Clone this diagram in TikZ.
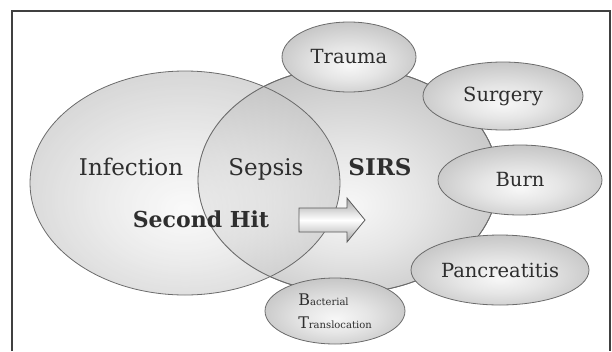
\documentclass[tikz,border=0pt]{standalone}
\usepackage{fontspec}
\setmainfont{DejaVu Serif}
\usetikzlibrary{shapes.geometric}
\newcommand{\vennfont}{\fontsize{23}{27}\selectfont}
\newcommand{\causefont}{\fontsize{19.5}{23}\selectfont}
\newcommand{\bigletter}[1]{{\fontsize{16}{23}\selectfont #1}}
\newcommand{\tinyword}[1]{{\fontsize{10}{12}\selectfont #1}}
\pgfdeclareradialshading{blobshade}{\pgfpoint{0bp}{-6bp}}{%
  color(0bp)=(white!97!black); color(12bp)=(white!90!black); color(30bp)=(white!76!black);
  color(44bp)=(white!62!black); color(50bp)=(white!54!black)}

\begin{document}
\begin{tikzpicture}[
    x=1pt, y=-1pt,
    font=\causefont, text=black!82,
    blob/.style={ellipse, inner sep=0pt, shading=blobshade, draw=black!58, line width=0.8pt},
    rim/.style={draw=black!58, line width=0.8pt},
    frame/.style={draw=black!75, line width=1.8pt},
    shiftarrow/.style={top color=black!35, bottom color=black!35, middle color=white, draw=black!65, line width=0.8pt, line join=miter}
]
  \useasboundingbox (0,0) rectangle (612,351);
  \draw[frame] (12,351) -- (12,11) -- (610,11) -- (610,351);

  % the two overlapping sets
  \node[blob, minimum width=300pt, minimum height=226pt] (sirs) at (348,180) {};
  \node[blob, minimum width=310pt, minimum height=224pt, fill opacity=0.7] (infection) at (185,183) {};
  \draw[rim] (sirs.center) ellipse [x radius=150pt, y radius=113pt];

  % causes round SIRS
  \node[blob, minimum width=134pt, minimum height=70pt] (trauma) at (349,57) {Trauma};
  \node[blob, minimum width=160pt, minimum height=68pt] (surgery) at (503,96) {Surgery};
  \node[blob, minimum width=164pt, minimum height=70pt] (burn) at (520,180) {Burn};
  \node[blob, minimum width=178pt, minimum height=70pt] (pancreatitis) at (500,270) {Pancreatitis};
  \node[blob, minimum width=140pt, minimum height=66pt, align=left, font=\fontsize{16}{23}\selectfont] (bacterial) at (335,311)
    {\bigletter{B}\tinyword{acterial}\\\bigletter{T}\tinyword{ranslocation}};

  \node[font=\vennfont, anchor=base] (infectionlabel) at (131,175) {Infection};
  \node[font=\vennfont, anchor=base] (sepsislabel) at (266,175) {Sepsis};
  \node[font=\vennfont\bfseries, anchor=base] (sirslabel) at (380,175) {SIRS};
  \node[font=\fontsize{22}{26}\selectfont\bfseries, anchor=base] (secondhit) at (201,227) {Second Hit};

  \draw[shiftarrow] (299,208) -- (347,208) -- (347,198) -- (365,220) -- (347,242) -- (347,232) -- (299,232) -- cycle;
\end{tikzpicture}
\end{document}
